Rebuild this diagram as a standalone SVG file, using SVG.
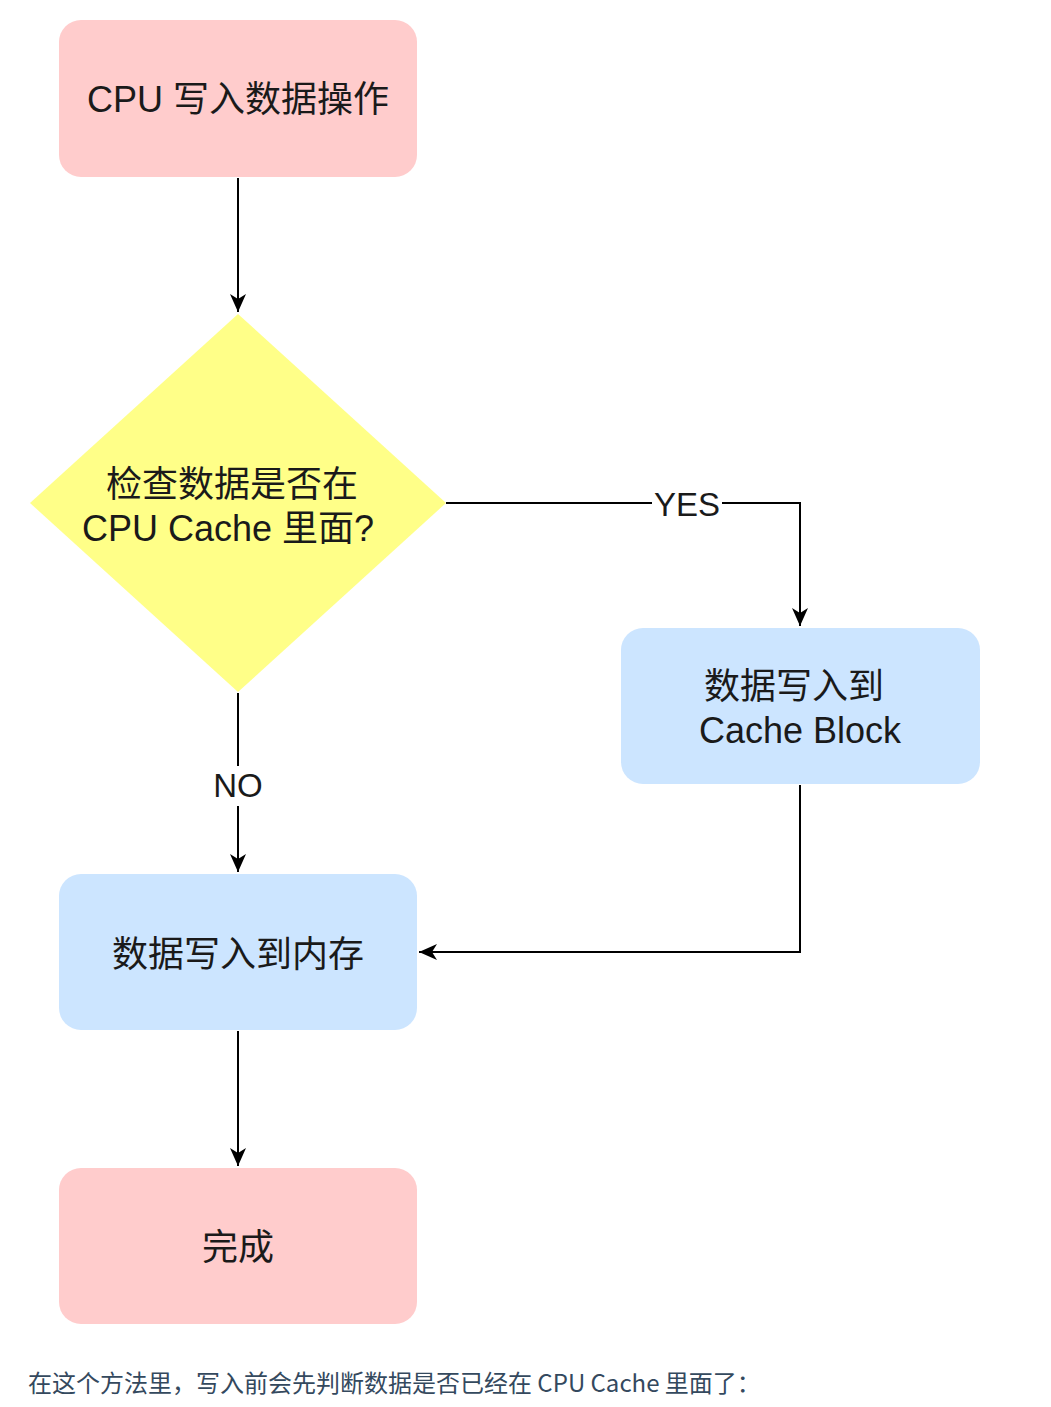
<svg xmlns="http://www.w3.org/2000/svg" width="1051" height="1407" viewBox="0 0 1051 1407">
  <style>
    .node-text { font-family: "Liberation Sans", "Noto Sans CJK SC", Arial, sans-serif; font-size: 36px; fill: #1a1a1a; text-anchor: middle; }
    .edge-label { font-family: "Liberation Sans", Arial, sans-serif; font-size: 33px; fill: #1a1a1a; text-anchor: middle; }
    .pink { fill: #ffcccc; }
    .blue { fill: #cce5ff; }
    .yellow { fill: #ffff88; }
    .edge { fill: none; stroke: #000; stroke-width: 2; }
    .caption { font-family: "Noto Sans CJK SC", "Noto Sans", sans-serif; font-size: 24px; fill: #34495e; }
  </style>
  <defs>
    <marker id="arrow" viewBox="0 0 18 16" refX="18" refY="8" markerWidth="18" markerHeight="16" markerUnits="userSpaceOnUse" orient="auto">
      <path d="M0,0 L18,8 L0,16 L5,8 Z" fill="#000"/>
    </marker>
  </defs>

  <rect width="1051" height="1407" fill="#ffffff"/>

  <!-- connectors -->
  <g id="edges">
    <path class="edge" d="M238,178 V312" marker-end="url(#arrow)"/>
    <path class="edge" d="M446,503 H800 V626" marker-end="url(#arrow)"/>
    <path class="edge" d="M800,785 V952 H419" marker-end="url(#arrow)"/>
    <path class="edge" d="M238,693 V872" marker-end="url(#arrow)"/>
    <path class="edge" d="M238,1031 V1166" marker-end="url(#arrow)"/>
    <g id="label-yes">
      <rect x="652" y="488" width="70" height="32" fill="#ffffff"/>
      <text class="edge-label" x="687" y="516">YES</text>
    </g>
    <g id="label-no">
      <rect x="210" y="766" width="56" height="40" fill="#ffffff"/>
      <text class="edge-label" x="238" y="797">NO</text>
    </g>
  </g>

  <!-- nodes -->
  <g id="start">
    <rect class="pink" x="59" y="20" width="358" height="157" rx="22" ry="22"/>
    <text class="node-text" x="238" y="112">CPU 写入数据操作</text>
  </g>

  <g id="check">
    <polygon class="yellow" points="238,314 446,503 238,692 30,503"/>
    <text class="node-text" x="232" y="497">检查数据是否在</text>
    <text class="node-text" x="228" y="541">CPU Cache 里面?</text>
  </g>

  <g id="write-cache">
    <rect class="blue" x="621" y="628" width="359" height="156" rx="22" ry="22"/>
    <text class="node-text" x="794" y="699">数据写入到</text>
    <text class="node-text" x="800" y="743">Cache Block</text>
  </g>

  <g id="write-memory">
    <rect class="blue" x="59" y="874" width="358" height="156" rx="22" ry="22"/>
    <text class="node-text" x="238" y="967">数据写入到内存</text>
  </g>

  <g id="done">
    <rect class="pink" x="59" y="1168" width="358" height="156" rx="22" ry="22"/>
    <text class="node-text" x="238" y="1260">完成</text>
  </g>

  <text class="caption" x="28" y="1392">在这个方法里，写入前会先判断数据是否已经在 CPU Cache 里面了：</text>
</svg>
